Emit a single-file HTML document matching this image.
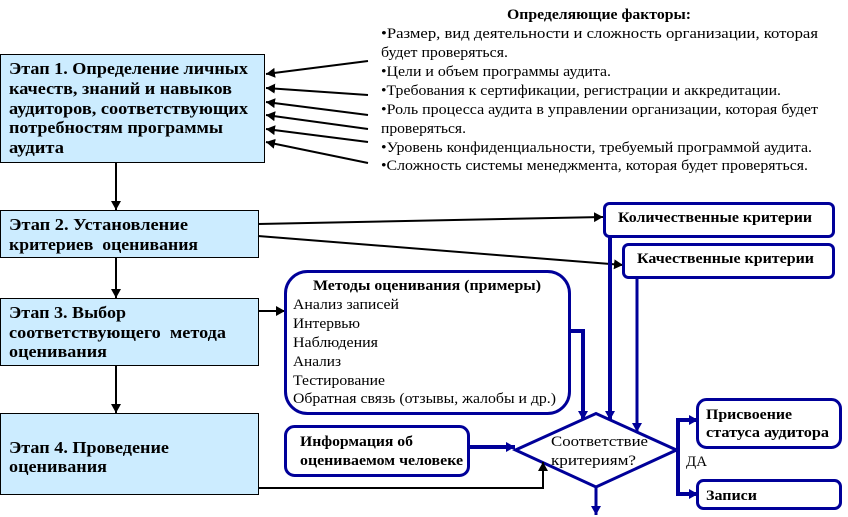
<!DOCTYPE html>
<html lang="ru"><head><meta charset="utf-8"><title>Этапы оценивания</title>
<style>
html,body{margin:0;padding:0;background:#fff}
svg{display:block}
text{font-family:"Liberation Serif","DejaVu Serif",serif;font-size:15px;fill:#000;white-space:pre}
.b{font-weight:bold}
.s{font-weight:bold;font-size:16.5px}
</style></head><body>
<svg width="848" height="517" viewBox="0 0 848 517" xmlns="http://www.w3.org/2000/svg">
<defs>
<marker id="k" markerUnits="userSpaceOnUse" markerWidth="11" markerHeight="11" refX="9" refY="5" orient="auto"><path d="M0,0L9,5L0,10Z" fill="#000"/></marker>
<marker id="u" markerUnits="userSpaceOnUse" markerWidth="11" markerHeight="11" refX="9" refY="5" orient="auto"><path d="M0,0L9,5L0,10Z" fill="#000099"/></marker>
</defs>
<g fill="#CCECFF" stroke="#000" stroke-width="1">
<rect x="0.5" y="54.5" width="264" height="108"/>
<rect x="0.5" y="210.5" width="258" height="47"/>
<rect x="0.5" y="298.5" width="258" height="67"/>
<rect x="0.5" y="413.5" width="258" height="81"/>
</g>
<g fill="none" stroke="#000" stroke-width="2">
<path d="M368,61L266,74" marker-end="url(#k)"/>
<path d="M368,95L266,88" marker-end="url(#k)"/>
<path d="M368,115L266,102" marker-end="url(#k)"/>
<path d="M368,129L266,115" marker-end="url(#k)"/>
<path d="M368,142L266,129" marker-end="url(#k)"/>
<path d="M368,163L266,142" marker-end="url(#k)"/>
<path d="M116,162V210" marker-end="url(#k)"/>
<path d="M116,257V298" marker-end="url(#k)"/>
<path d="M116,365V413" marker-end="url(#k)"/>
<path d="M258,224L603,217" marker-end="url(#k)"/>
<path d="M258,236L623,265" marker-end="url(#k)"/>
<path d="M258,311H285" marker-end="url(#k)"/>
</g>
<g fill="#fff" stroke="#000099" stroke-width="3">
<rect x="604.5" y="203.5" width="229" height="33" rx="5"/>
<rect x="623.5" y="244.5" width="210" height="33" rx="5"/>
<rect x="285.5" y="271.5" width="284" height="142" rx="22"/>
<rect x="285.5" y="426.5" width="183" height="49" rx="9"/>
<rect x="697.5" y="399.5" width="143" height="48" rx="9"/>
<rect x="697.5" y="480.5" width="143" height="28" rx="6"/>
<path d="M515.5,450L596,413.5L676.5,450L596,487Z" stroke-width="3"/>
</g>
<g fill="none" stroke="#000099">
<path d="M570,331H583V420" stroke-width="4" marker-end="url(#u)"/>
<path d="M610,237V420" stroke-width="4" marker-end="url(#u)"/>
<path d="M637,277V432" stroke-width="3" marker-end="url(#u)"/>
<path d="M469,447H515" stroke-width="4" marker-end="url(#u)"/>
<path d="M697,420H678V494H697" stroke-width="4"/>
<path d="M689,420H698" stroke-width="4" marker-end="url(#u)"/>
<path d="M689,494H698" stroke-width="4" marker-end="url(#u)"/>
<path d="M596,487V515" stroke-width="3" marker-end="url(#u)"/>
</g>
<path d="M258,488H543V462" fill="none" stroke="#000" stroke-width="2" marker-end="url(#k)"/>

<text class="s" x="9" y="74" textLength="239" lengthAdjust="spacingAndGlyphs">Этап 1. Определение личных</text>
<text class="s" x="9" y="94" textLength="223" lengthAdjust="spacingAndGlyphs">качеств, знаний и навыков</text>
<text class="s" x="9" y="114" textLength="239" lengthAdjust="spacingAndGlyphs">аудиторов, соответствующих</text>
<text class="s" x="9" y="133" textLength="214" lengthAdjust="spacingAndGlyphs">потребностям программы</text>
<text class="s" x="9" y="153" textLength="55" lengthAdjust="spacingAndGlyphs">аудита</text>
<text class="s" x="9" y="230" textLength="179" lengthAdjust="spacingAndGlyphs">Этап 2. Установление</text>
<text class="s" x="9" y="250" textLength="189" lengthAdjust="spacingAndGlyphs">критериев  оценивания</text>
<text class="s" x="9" y="318" textLength="117" lengthAdjust="spacingAndGlyphs">Этап 3. Выбор</text>
<text class="s" x="9" y="338" textLength="217" lengthAdjust="spacingAndGlyphs">соответствующего  метода</text>
<text class="s" x="9" y="357" textLength="98" lengthAdjust="spacingAndGlyphs">оценивания</text>
<text class="s" x="9" y="453" textLength="160" lengthAdjust="spacingAndGlyphs">Этап 4. Проведение</text>
<text class="s" x="9" y="472" textLength="98" lengthAdjust="spacingAndGlyphs">оценивания</text>
<text class="b" x="507" y="19" textLength="184" lengthAdjust="spacingAndGlyphs">Определяющие факторы:</text>
<text class="b" x="618" y="222" textLength="194" lengthAdjust="spacingAndGlyphs">Количественные критерии</text>
<text class="b" x="637" y="263" textLength="177" lengthAdjust="spacingAndGlyphs">Качественные критерии</text>
<text class="b" x="313" y="290" textLength="228" lengthAdjust="spacingAndGlyphs">Методы оценивания (примеры)</text>
<text class="b" x="300" y="446" textLength="113" lengthAdjust="spacingAndGlyphs">Информация об</text>
<text class="b" x="300" y="465" textLength="163" lengthAdjust="spacingAndGlyphs">оцениваемом человеке</text>
<text class="b" x="706" y="419" textLength="86" lengthAdjust="spacingAndGlyphs">Присвоение</text>
<text class="b" x="706" y="437" textLength="123" lengthAdjust="spacingAndGlyphs">статуса аудитора</text>
<text class="b" x="706" y="500" textLength="51" lengthAdjust="spacingAndGlyphs">Записи</text>

<text x="381" y="38" textLength="437" lengthAdjust="spacingAndGlyphs">•Размер, вид деятельности и сложность организации, которая</text>
<text x="381" y="57" textLength="127" lengthAdjust="spacingAndGlyphs">будет проверяться.</text>
<text x="381" y="76" textLength="230" lengthAdjust="spacingAndGlyphs">•Цели и объем программы аудита.</text>
<text x="381" y="95" textLength="400" lengthAdjust="spacingAndGlyphs">•Требования к сертификации, регистрации и аккредитации.</text>
<text x="381" y="114" textLength="437" lengthAdjust="spacingAndGlyphs">•Роль процесса аудита в управлении организации, которая будет</text>
<text x="381" y="133" textLength="85" lengthAdjust="spacingAndGlyphs">проверяться.</text>
<text x="381" y="152" textLength="431" lengthAdjust="spacingAndGlyphs">•Уровень конфиденциальности, требуемый программой аудита.</text>
<text x="381" y="170" textLength="427" lengthAdjust="spacingAndGlyphs">•Сложность системы менеджмента, которая будет проверяться.</text>
<text x="293" y="309" textLength="106" lengthAdjust="spacingAndGlyphs">Анализ записей</text>
<text x="293" y="328" textLength="67" lengthAdjust="spacingAndGlyphs">Интервью</text>
<text x="293" y="347" textLength="85" lengthAdjust="spacingAndGlyphs">Наблюдения</text>
<text x="293" y="366" textLength="48" lengthAdjust="spacingAndGlyphs">Анализ</text>
<text x="293" y="385" textLength="92" lengthAdjust="spacingAndGlyphs">Тестирование</text>
<text x="293" y="403" textLength="263" lengthAdjust="spacingAndGlyphs">Обратная связь (отзывы, жалобы и др.)</text>
<text x="551" y="446" textLength="97" lengthAdjust="spacingAndGlyphs">Соответствие</text>
<text x="551" y="465" textLength="85" lengthAdjust="spacingAndGlyphs">критериям?</text>
<text x="686" y="466" textLength="21" lengthAdjust="spacingAndGlyphs">ДА</text>
</svg>
</body></html>
